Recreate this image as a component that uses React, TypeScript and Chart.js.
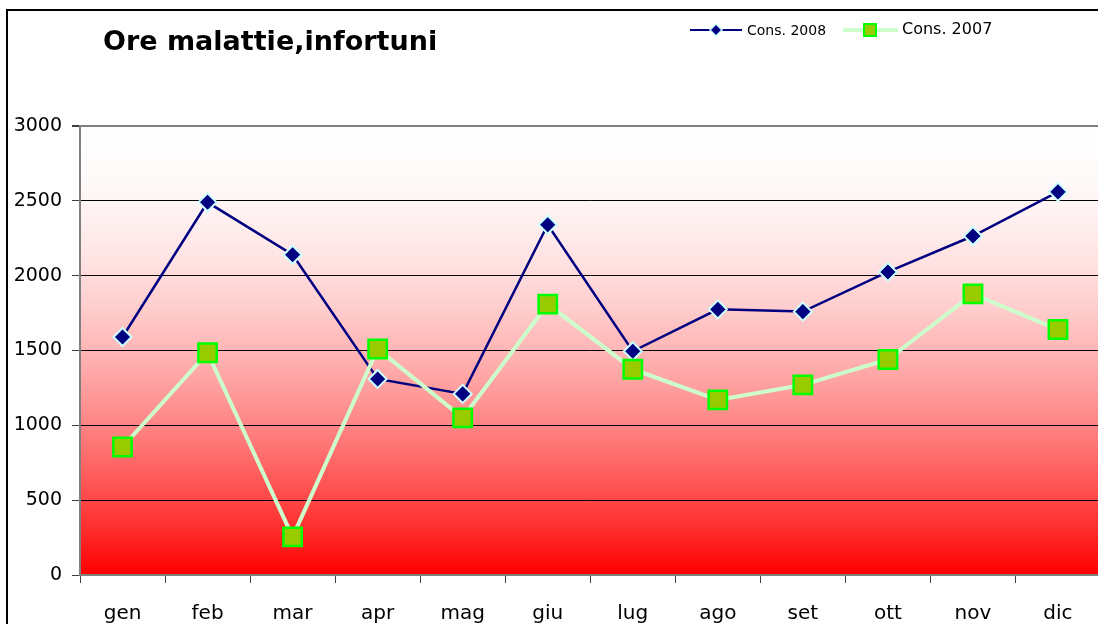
import React, { useEffect, useRef } from "react";
import { Chart, registerables } from "chart.js";

Chart.register(...registerables);

const months = ["gen", "feb", "mar", "apr", "mag", "giu", "lug", "ago", "set", "ott", "nov", "dic"];
const cons2008 = [1590, 2490, 2140, 1310, 1210, 2340, 1495, 1775, 1760, 2025, 2265, 2560];
const cons2007 = [855, 1485, 255, 1510, 1050, 1810, 1375, 1170, 1270, 1440, 1878, 1640];
const yTicks = [0, 500, 1000, 1500, 2000, 2500, 3000];
const titleText = "Ore malattie,infortuni";
const label2008 = "Cons. 2008";
const label2007 = "Cons. 2007";

const FONT = '"DejaVu Sans", Verdana, sans-serif';

const decorPlugin = {
  id: "decor",
  beforeDraw(chart: any) {
    const { ctx, chartArea } = chart;
    const { left, top, right, bottom } = chartArea;
    ctx.save();
    const g = ctx.createLinearGradient(0, top, 0, bottom);
    const steps = 10;
    for (let i = 0; i <= steps; i++) {
      const f = i / steps;
      const w = Math.round(255 * (1 - Math.pow(f, 1.8)));
      g.addColorStop(f, `rgb(255,${w},${w})`);
    }
    ctx.fillStyle = g;
    ctx.fillRect(left, top, right - left, bottom - top);
    ctx.restore();
  },
  afterDraw(chart: any) {
    const { ctx } = chart;
    ctx.save();
    ctx.fillStyle = "#000";
    ctx.font = `bold 27px ${FONT}`;
    ctx.textBaseline = "middle";
    ctx.textAlign = "left";
    ctx.fillText(titleText, 103, 43);
    const ly = 30;
    ctx.strokeStyle = "#000080";
    ctx.lineWidth = 2;
    ctx.beginPath();
    ctx.moveTo(690, ly);
    ctx.lineTo(742, ly);
    ctx.stroke();
    ctx.beginPath();
    ctx.moveTo(716, ly - 6);
    ctx.lineTo(722, ly);
    ctx.lineTo(716, ly + 6);
    ctx.lineTo(710, ly);
    ctx.closePath();
    ctx.fillStyle = "#000080";
    ctx.fill();
    ctx.strokeStyle = "#ccffff";
    ctx.lineWidth = 1.5;
    ctx.stroke();
    ctx.fillStyle = "#000";
    ctx.font = `14px ${FONT}`;
    ctx.fillText(label2008, 747, ly + 1);
    ctx.strokeStyle = "#ccffcc";
    ctx.lineWidth = 4;
    ctx.beginPath();
    ctx.moveTo(843, ly);
    ctx.lineTo(898, ly);
    ctx.stroke();
    ctx.fillStyle = "#99cc00";
    ctx.fillRect(864, ly - 6, 12, 12);
    ctx.strokeStyle = "#00ff00";
    ctx.lineWidth = 2;
    ctx.strokeRect(864, ly - 6, 12, 12);
    ctx.fillStyle = "#000";
    ctx.font = `16px ${FONT}`;
    ctx.fillText(label2007, 902, ly);
    ctx.restore();
  },
};

export default function App() {
  const ref = useRef<HTMLCanvasElement>(null);
  useEffect(() => {
    if (!ref.current) return;
    const chart = new Chart(ref.current, {
      type: "line",
      data: {
        labels: months,
        datasets: [
          {
            label: label2008,
            data: cons2008,
            borderColor: "#000080",
            borderWidth: 2.5,
            pointStyle: "rectRot",
            pointRadius: 9,
            pointBackgroundColor: "#000080",
            pointBorderColor: "#ccffff",
            pointBorderWidth: 2,
            tension: 0,
            order: 2,
          },
          {
            label: label2007,
            data: cons2007,
            borderColor: "#ccffcc",
            borderWidth: 4,
            pointStyle: "rect",
            pointRadius: 13,
            pointBackgroundColor: "#99cc00",
            pointBorderColor: "#00ff00",
            pointBorderWidth: 2.5,
            tension: 0,
            order: 1,
          },
        ],
      },
      options: {
        responsive: false,
        animation: false,
        devicePixelRatio: 1,
        layout: { padding: { left: 0, top: 126, right: 10, bottom: 0 } },
        plugins: {
          legend: { display: false },
          title: { display: false },
          tooltip: { enabled: false },
        },
        scales: {
          x: {
            offset: true,
            grid: {
              offset: true,
              drawOnChartArea: false,
              drawTicks: true,
              tickLength: 8,
              tickColor: "#404040",
            },
            border: { color: "#808080", width: 2 },
            ticks: {
              color: "#000",
              padding: 19,
              font: { family: FONT, size: 20 },
              maxRotation: 0,
              autoSkip: false,
            },
            afterFit(scale: any) {
              scale.height = 65;
              scale.paddingLeft = 0;
              scale.paddingRight = 0;
            },
          },
          y: {
            min: 0,
            max: 3000,
            afterBuildTicks(scale: any) {
              scale.ticks = yTicks.map((v) => ({ value: v }));
            },
            grid: {
              color: (c: any) => (c.tick && (c.tick.value === 3000 || c.tick.value === 0) ? "#808080" : "#000"),
              lineWidth: (c: any) => (c.tick && c.tick.value === 3000 ? 2 : 1),
              tickLength: 8,
              tickColor: "#404040",
            },
            border: { color: "#808080", width: 2 },
            ticks: {
              color: "#000",
              padding: 10,
              font: { family: FONT, size: 19 },
              callback: (v: any) => String(v),
            },
            afterFit(scale: any) {
              scale.width = 80;
            },
          },
        },
      },
      plugins: [decorPlugin],
    });
    return () => chart.destroy();
  }, []);
  return (
    <div style={{ position: "fixed", left: 0, top: 0, width: 1098, height: 624, overflow: "hidden", background: "#fff" }}>
      <canvas ref={ref} width={1116} height={640} style={{ width: 1116, height: 640, display: "block" }} />
      <div
        style={{
          position: "absolute",
          left: 6,
          top: 9,
          width: 1092,
          height: 620,
          borderLeft: "2px solid #000",
          borderTop: "2px solid #000",
          pointerEvents: "none",
        }}
      />
    </div>
  );
}
